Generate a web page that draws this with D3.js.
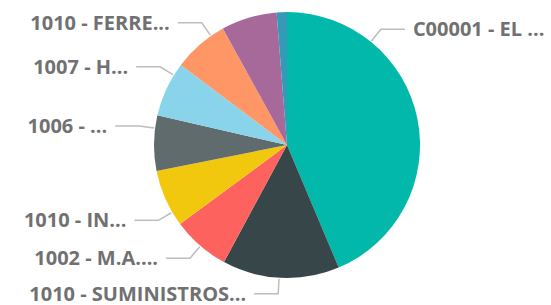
<!DOCTYPE html>
<html>
<head>
<meta charset="utf-8">
<script src="https://cdn.jsdelivr.net/npm/d3@7"></script>
<style>
  html, body { margin: 0; padding: 0; background: #fff; }
  svg { display: block; }
  .lbl { font-family: "Open Sans", sans-serif; font-weight: 700; font-size: 20px; fill: #717171; }
</style>
</head>
<body>
<svg width="551" height="305"></svg>
<script>
// slices, clockwise from 12 o'clock
const categories = ["C00001 - EL ...", "1010 - SUMINISTROS...", "1002 - M.A....", "1010 - IN...",
    "1006 - ...", "1007 - H...", "1010 - FERRE...", "", ""];
const values = [43.6, 14.2, 7.0, 7.0, 6.7, 6.7, 6.7, 6.75, 1.25];
const colors = ["#01B8AA", "#374649", "#FD625E", "#F2C80F", "#5F6B6D", "#8AD4EB", "#FE9666", "#A66999", "#3599B8"];

const svg = d3.select("svg"),
    cx = 287,
    cy = 145,
    radius = 133;

// leader lines get nudged away from the slice middle (degrees) so labels don't collide
const leaderShift = [-39.5, 0.7, -0.3, -6.5, 6.5, 6.7, 6.0, 0, 0];

const pie = d3.pie().sort(null).value(d => d);
const arcs = pie(values);
const arc = d3.arc().innerRadius(0).outerRadius(radius);

const g = svg.append("g").attr("transform", `translate(${cx},${cy})`);

g.selectAll("path.slice")
    .data(arcs)
    .enter()
    .append("path")
    .attr("class", "slice")
    .attr("d", arc)
    .attr("fill", (d, i) => colors[i]);

// labels + leader lines
arcs.forEach((d, i) => {
    if (!categories[i]) return;
    const a = (d.startAngle + d.endAngle) / 2 + leaderShift[i] * Math.PI / 180;
    const p0 = d3.pointRadial(a, radius + 1);
    const p1 = d3.pointRadial(a, radius + 16);
    const right = Math.sin(a) > 0;
    const p2 = [p1[0] + (right ? 24 : -24), p1[1]];

    g.append("polyline")
        .attr("points", [p0, p1, p2].map(p => p.join(",")).join(" "))
        .attr("fill", "none")
        .attr("stroke", "#bdbdbd")
        .attr("stroke-width", 1.5);

    g.append("text")
        .attr("class", "lbl")
        .attr("x", p2[0] + (right ? 8 : -8))
        .attr("y", p2[1] + 7)
        .attr("text-anchor", right ? "start" : "end")
        .text(categories[i]);
});
</script>
</body>
</html>
